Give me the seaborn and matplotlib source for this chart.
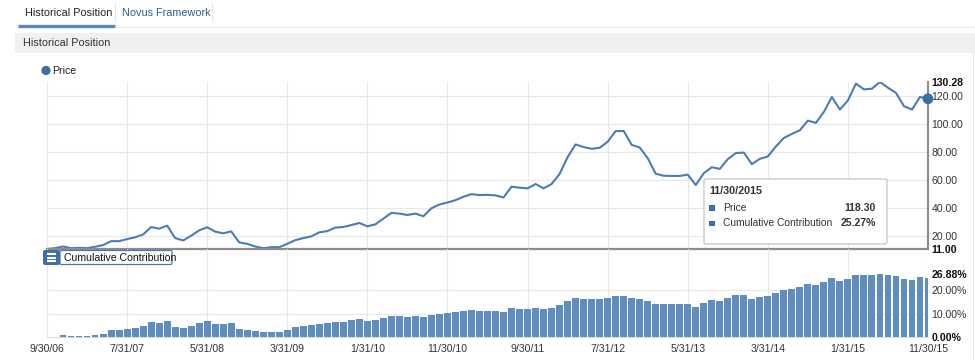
import matplotlib
matplotlib.use("Agg")
import matplotlib.pyplot as plt
from matplotlib.patches import Rectangle, FancyBboxPatch, Circle
import seaborn as sns
import numpy as np
import pandas as pd

# ---------------- data ----------------
months = list(range(111))  # 9/30/06 ... 11/30/15, monthly
tick_labels = ["9/30/06", "7/31/07", "5/31/08", "3/31/09", "1/31/10", "11/30/10",
               "9/30/11", "7/31/12", "5/31/13", "3/31/14", "1/31/15", "11/30/15"]
price = [11.0, 11.6, 12.8, 11.6, 11.8, 11.6, 12.6, 13.8, 16.6, 16.6,
         18.1, 19.3, 21.4, 26.7, 25.5, 27.7, 18.8, 17.1, 20.5, 24.3,
         26.5, 23.4, 22.2, 23.6, 15.7, 14.7, 12.8, 11.6, 12.3, 12.3,
         14.7, 17.3, 18.8, 20.0, 22.9, 23.8, 26.3, 26.7, 28.1, 29.6,
         27.2, 28.6, 32.7, 36.8, 36.3, 35.3, 36.3, 34.4, 40.1, 42.8,
         44.2, 45.9, 48.3, 50.2, 49.5, 49.7, 49.3, 47.8, 55.5, 54.8,
         54.3, 57.4, 54.3, 57.4, 64.6, 76.6, 85.7, 83.8, 82.6, 83.3,
         87.6, 95.2, 95.3, 85.4, 83.5, 75.9, 64.8, 63.3, 63.2, 63.2,
         64.1, 56.7, 65.1, 69.4, 68.2, 75.2, 79.5, 79.9, 71.6, 75.4,
         77.1, 84.2, 90.3, 93.2, 95.8, 102.7, 101.1, 108.9, 119.6, 110.6,
         117.1, 129.1, 125.0, 125.5, 130.28, 126.2, 122.5, 113.0, 110.6, 119.6,
         118.3]
contrib = [0.3, 0.3, 1.0, 0.4, 0.4, 0.4, 1.0, 1.5, 3.1, 3.1,
           3.5, 3.9, 4.8, 6.6, 6.2, 6.9, 4.4, 3.9, 4.8, 6.2,
           6.9, 5.8, 5.5, 6.1, 3.5, 3.2, 2.5, 2.2, 2.2, 2.2,
           3.2, 4.2, 4.8, 5.1, 5.8, 6.0, 6.6, 6.6, 7.2, 7.6,
           6.9, 7.3, 8.3, 9.0, 9.0, 8.7, 9.0, 8.5, 9.6, 10.0,
           10.3, 10.7, 11.1, 11.4, 11.3, 11.3, 11.3, 10.8, 12.3, 12.2,
           12.0, 12.5, 12.0, 12.5, 13.6, 15.3, 16.5, 16.1, 16.1, 16.1,
           16.5, 17.5, 17.5, 16.5, 16.4, 15.4, 14.0, 14.0, 14.0, 14.0,
           14.2, 12.8, 14.7, 15.8, 15.4, 16.8, 17.9, 17.9, 16.4, 16.9,
           17.4, 18.9, 20.2, 20.6, 21.2, 22.6, 22.2, 23.3, 25.3, 23.7,
           24.8, 26.6, 26.3, 26.3, 26.88, 26.5, 25.8, 24.7, 24.3, 25.5,
           25.27]
price_ticks = [11.00, 20, 40, 60, 80, 100, 120, 130.28]
contrib_ticks = [0, 10, 20, 26.88]
tooltip_date = "11/30/2015"

df = pd.DataFrame({"month": months, "price": price, "contrib": contrib})

# ---------------- style ----------------
sns.set_theme(style="white")
plt.rcParams["font.family"] = ["Liberation Sans", "DejaVu Sans"]

LINE = "#4a7cb6"
BAR = "#5f8dc0"
MARK = "#3b6da6"
GRID = "#e8e8e8"
TXT = "#333333"
FS = 7.6

W, H = 975, 360
fig = plt.figure(figsize=(W / 100, H / 100), dpi=100)
fig.patch.set_facecolor("white")


def rect(x0, y0, x1, y1):
    return [x0 / W, 1 - y1 / H, (x1 - x0) / W, (y1 - y0) / H]


X0, X1 = 47, 928

# ---------------- top chart: price ----------------
ax = fig.add_axes(rect(X0, 82, X1, 249))
sns.lineplot(data=df, x="month", y="price", ax=ax, color=LINE, linewidth=1.5)
sns.scatterplot(x=[months[-1]], y=[price[-1]], ax=ax, color=MARK, s=60,
                edgecolor="none", clip_on=False, zorder=6)
ax.set_xlim(0, 110)
ax.set_ylim(11.0, 130.28)
for v in [20, 40, 60, 80, 100, 120]:
    ax.axhline(v, color=GRID, lw=0.9, zorder=0)
ax.set_xticks(range(0, 111, 10))
ax.grid(axis="x", color=GRID, lw=0.9)
ax.grid(axis="y", visible=False)
ax.set_axisbelow(True)
ax.tick_params(axis="x", labelbottom=False, length=0)
ax.yaxis.tick_right()
ax.set_yticks(price_ticks)
ax.set_yticklabels([f"{v:.2f}" for v in price_ticks])
ax.tick_params(axis="y", length=0, pad=2.5, labelsize=FS, labelcolor=TXT)
for lab, v in zip(ax.get_yticklabels(), price_ticks):
    if v in (price_ticks[0], price_ticks[-1]):
        lab.set_fontweight("bold")
        lab.set_color("#111111")
for s in ["left", "top"]:
    ax.spines[s].set_visible(False)
ax.spines["right"].set_color("#8c8c8c")
ax.spines["right"].set_linewidth(1.5)
ax.spines["bottom"].set_color("#8c8c8c")
ax.spines["bottom"].set_linewidth(1.6)
ax.set_xlabel("")
ax.set_ylabel("")
ax.patch.set_alpha(0)

# ---------------- bottom chart: cumulative contribution ----------------
ax2 = fig.add_axes(rect(X0, 249, X1, 337.3))
sns.barplot(data=df, x="month", y="contrib", ax=ax2, color=BAR, saturation=1,
            width=0.86, native_scale=True, edgecolor="none", zorder=3)
ax2.set_xlim(0, 110)
ax2.set_ylim(0, 88.3 / 2.36)
for v in [10, 20]:
    ax2.axhline(v, color=GRID, lw=0.9, zorder=0)
ax2.set_xticks(range(0, 111, 10))
ax2.set_xticklabels(tick_labels)
ax2.grid(axis="x", color=GRID, lw=0.9)
ax2.grid(axis="y", visible=False)
ax2.set_axisbelow(True)
ax2.tick_params(axis="x", length=0, pad=4.5, labelsize=FS, labelcolor=TXT)
ax2.yaxis.tick_right()
ax2.set_yticks(contrib_ticks)
ax2.set_yticklabels([f"{v:.2f}%" for v in contrib_ticks])
ax2.tick_params(axis="y", length=0, pad=2.5, labelsize=FS, labelcolor=TXT)
for lab, v in zip(ax2.get_yticklabels(), contrib_ticks):
    if v in (contrib_ticks[0], contrib_ticks[-1]):
        lab.set_fontweight("bold")
        lab.set_color("#111111")
for s in ["left", "top", "right"]:
    ax2.spines[s].set_visible(False)
ax2.spines["bottom"].set_color("#dcdcdc")
ax2.spines["bottom"].set_linewidth(0.8)
ax2.set_xlabel("")
ax2.set_ylabel("")
ax2.patch.set_alpha(0)

# ---------------- overlay: page chrome, legend, tooltip ----------------
ov = fig.add_axes([0, 0, 1, 1], zorder=10)
ov.set_xlim(0, W)
ov.set_ylim(H, 0)
ov.axis("off")
ov.patch.set_alpha(0)

# tabs
ov.text(25, 13, "Historical Position", fontsize=7.8, color="#222222", va="center")
ov.text(122, 13, "Novus Framework", fontsize=7.8, color="#2c5f94", va="center")
ov.plot([18, 115], [25.5, 25.5], color="#5b8ab8", lw=2.4, solid_capstyle="butt")
ov.plot([115, 115], [3, 22], color="#e4e4e4", lw=0.8)
ov.plot([212, 212], [3, 22], color="#e4e4e4", lw=0.8)
ov.plot([115, W], [27, 27], color="#ededed", lw=0.8)
# section header
ov.add_patch(Rectangle((15, 33), W - 15, 20, facecolor="#f0f0f0", edgecolor="none"))
ov.text(23, 43, "Historical Position", fontsize=7.8, color="#333333", va="center")
# right panel border
ov.plot([973, 973], [53, H], color="#e6e6e6", lw=0.8)

# legend
ov.add_patch(Circle((46, 70.5), 4.6, facecolor=MARK, edgecolor="none"))
ov.text(52, 70.5, "Price", fontsize=FS, color="#222222", va="center")

# tooltip
ov.add_patch(FancyBboxPatch((704, 179), 183, 65, boxstyle="round,pad=0,rounding_size=2",
                            facecolor="white", edgecolor="#c4c4c4", lw=0.9))
ov.text(709, 190.5, tooltip_date, fontsize=7.8, fontweight="bold", color="#333333", va="center")
for yy, name, val in [(208, "Price", f"{price[-1]:.2f}"),
                      (223.5, "Cumulative Contribution", f"{contrib[-1]:.2f}%")]:
    ov.add_patch(Rectangle((709, yy - 2.8), 5.6, 5.6, facecolor=MARK, edgecolor="none"))
    ov.text(723, yy, name, fontsize=7.4, color="#333333", va="center")
    ov.text(876, yy, val, fontsize=7.5, fontweight="bold", color="#333333",
            va="center", ha="right")

# "Cumulative Contribution" label button
ov.add_patch(FancyBboxPatch((60, 250.5), 112, 14, boxstyle="round,pad=0,rounding_size=1.5",
                            facecolor="white", edgecolor="#4a78ad", lw=0.9))
ov.add_patch(FancyBboxPatch((43, 250), 17, 15, boxstyle="round,pad=0,rounding_size=2",
                            facecolor="#3d6ea6", edgecolor="none"))
for yy in [253.8, 257.5, 261.2]:
    ov.plot([47, 56], [yy, yy], color="white", lw=1.5, solid_capstyle="butt")
ov.text(63.5, 257.8, "Cumulative Contribution", fontsize=7.6, color="#111111", va="center")

fig.savefig("out.png", dpi=100)
